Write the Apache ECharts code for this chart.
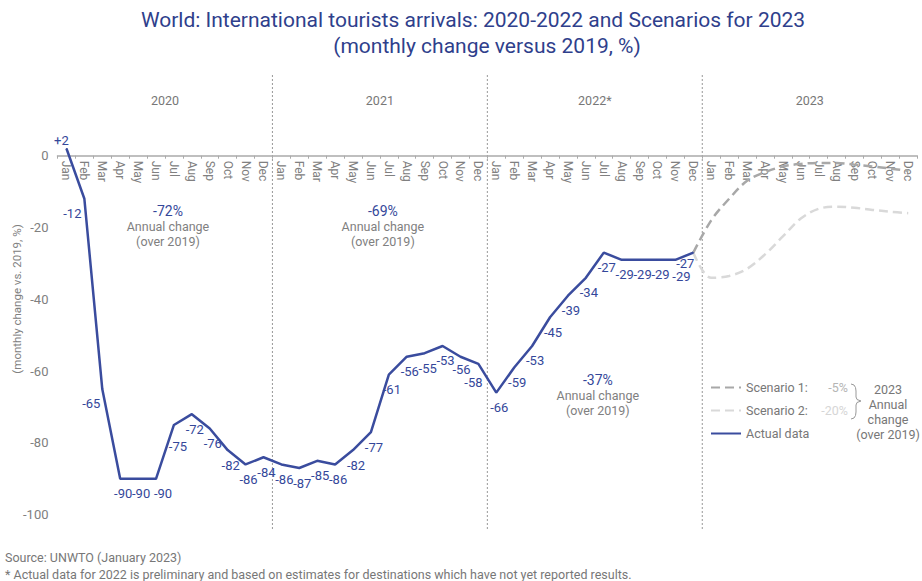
<!DOCTYPE html>
<html><head><meta charset="utf-8">
<script src="https://cdn.jsdelivr.net/npm/echarts@6/dist/echarts.min.js"></script>
<style>html,body{margin:0;padding:0;background:#fff}#c{width:922px;height:581px}</style>
</head><body><div id="c"></div>
<script>
// ---------- data ----------
const years = ['2020', '2021', '2022*', '2023'];
const months = ['Jan','Feb','Mar','Apr','May','Jun','Jul','Aug','Sep','Oct','Nov','Dec'];
const actual2020 = [2, -12, -65, -90, -90, -90, -75, -72, -76, -82, -86, -84];
const actual2021 = [-86, -87, -85, -86, -82, -77, -61, -56, -55, -53, -56, -58];
const actual2022 = [-66, -59, -53, -45, -39, -34, -27, -29, -29, -29, -29, -27];
const scenario1_2023 = [-18, -12, -7, -4.6, -3, -2.3, -2, -2, -2.5, -3, -3.6, -4.2];
const scenario2_2023 = [-34, -33.5, -31.5, -27.5, -22.5, -17.5, -14.8, -14.2, -14.5, -15.1, -15.6, -16];
const annualChange = ['-72%', '-69%', '-37%'];
const scenarioAnnual = ['-5%', '-20%'];
const seriesNames = ['Scenario 1:', 'Scenario 2:', 'Actual data'];
const yMin = -100, yMax = 0, yStep = 20;

// ---------- styles ----------
const BLUE = '#3a4c9e';
const TXT_BLUE = '#34479a';
const GRAY = '#808080';
const FONT = 'Roboto, "Noto Sans", sans-serif';
// label offsets (dx, dy) from each point; default below the point
const defaultLabelOffset = [3, 15];
const labelOffsetOverrides = {0: [-5, -8], 1: [-12, 15], 2: [-11, 14], 5: [7, 15], 6: [4, 22], 22: [1, 13], 23: [-5, 19], 34: [6, 17], 35: [-8, 11]};

// ---------- build ----------
const categories = [];
years.forEach(() => months.forEach(m => categories.push(m)));
const actual = actual2020.concat(actual2021, actual2022);
const lead = new Array(actual.length - 1).fill('-');
const s1 = lead.concat([actual[actual.length - 1]], scenario1_2023);
const s2 = lead.concat([actual[actual.length - 1]], scenario2_2023);

const actualData = actual.map((v, i) => ({
  value: v,
  label: {offset: labelOffsetOverrides[i] || defaultLabelOffset}
}));

const chart = echarts.init(document.getElementById('c'), null, {renderer: 'svg'});
const option = {
  animation: false,
  backgroundColor: '#fff',
  grid: {left: 57.5, right: 4.8, top: 155.7, bottom: 66.3},
  xAxis: {
    type: 'category',
    position: 'top',
    data: categories,
    boundaryGap: true,
    axisLine: {onZero: false, lineStyle: {color: '#aaa', width: 1.5}},
    axisTick: {show: true, inside: true, length: 3, lineStyle: {color: '#aaa'}},
    axisLabel: {inside: true, rotate: 90, interval: 0, margin: 5, color: GRAY, fontSize: 12, fontFamily: FONT}
  },
  yAxis: {
    type: 'value', min: yMin, max: yMax, interval: yStep,
    axisLine: {show: false}, axisTick: {show: false}, splitLine: {show: false},
    axisLabel: {color: GRAY, fontSize: 13, margin: 9, fontFamily: FONT}
  },
  legend: {
    orient: 'vertical', left: 705, top: 376, itemWidth: 30, itemHeight: 14, itemGap: 10,
    selectedMode: false,
    data: seriesNames,
    itemStyle: {opacity: 0},
    formatter: name => {
      const i = seriesNames.indexOf(name);
      return i < 2 ? `{n|${name}}{p${i}|${scenarioAnnual[i]}}` : `{n|${name}}`;
    },
    textStyle: {
      color: '#777', fontSize: 12.5, fontFamily: FONT,
      rich: {
        n: {color: '#777', fontSize: 12.5, fontFamily: FONT, width: 66},
        p0: {color: '#b5b5b5', fontSize: 12.5, fontFamily: FONT, width: 36, align: 'right'},
        p1: {color: '#d6d6d6', fontSize: 12.5, fontFamily: FONT, width: 36, align: 'right'}
      }
    }
  },
  series: [
    {
      name: seriesNames[0], type: 'line', data: s1, smooth: 0.35, symbol: 'none', clip: false, z: 2,
      lineStyle: {color: '#a8a8a8', width: 2.5, type: [9, 5]}, itemStyle: {color: '#a8a8a8'}
    },
    {
      name: seriesNames[1], type: 'line', data: s2, smooth: 0.35, symbol: 'none', clip: false, z: 1,
      lineStyle: {color: '#d9d9d9', width: 2.5, type: [9, 5]}, itemStyle: {color: '#d9d9d9'}
    },
    {
      name: seriesNames[2], type: 'line', data: actualData, symbol: 'circle', symbolSize: 1, clip: false, z: 3,
      lineStyle: {color: BLUE, width: 2.5}, itemStyle: {color: BLUE},
      label: {
        show: true, position: 'inside', color: TXT_BLUE, fontSize: 13, fontFamily: FONT,
        formatter: p => (p.value > 0 ? '+' : '') + p.value
      }
    }
  ]
};
chart.setOption(option);

// ---------- annotations positioned via the axes ----------
const px = i => chart.convertToPixel({xAxisIndex: 0}, i);
const g = [];
const divTop = 75, divBottom = 530;
for (let k = 1; k < years.length; k++) {
  const x = (px(12 * k - 1) + px(12 * k)) / 2;
  g.push({type: 'line', shape: {x1: x, y1: divTop, x2: x, y2: divBottom}, style: {stroke: '#999', lineWidth: 1, lineDash: [2, 2]}, silent: true});
}
years.forEach((y, k) => {
  const x = (px(12 * k + 5) + px(12 * k + 6)) / 2;
  g.push({type: 'text', x: x, y: 100, style: {text: y, fill: '#777', font: '12.5px ' + FONT, textAlign: 'center', textVerticalAlign: 'middle'}});
});
const annY = [211, 211, 380];
annualChange.forEach((t, k) => {
  const x = (px(12 * k + 5) + px(12 * k + 6)) / 2 + 3;
  g.push({type: 'text', x: x, y: annY[k], style: {text: t, fill: TXT_BLUE, font: '14px ' + FONT, textAlign: 'center', textVerticalAlign: 'middle'}});
  g.push({type: 'text', x: x, y: annY[k] + 15, style: {text: 'Annual change', fill: GRAY, font: '12.5px ' + FONT, textAlign: 'center', textVerticalAlign: 'middle'}});
  g.push({type: 'text', x: x, y: annY[k] + 30, style: {text: '(over 2019)', fill: GRAY, font: '12.5px ' + FONT, textAlign: 'center', textVerticalAlign: 'middle'}});
});
// titles
g.push({type: 'text', x: 473, y: 20, style: {text: 'World: International tourists arrivals: 2020-2022 and Scenarios for 2023', fill: '#2f3f8c', font: '21px ' + FONT, textAlign: 'center', textVerticalAlign: 'middle'}});
g.push({type: 'text', x: 487, y: 46, style: {text: '(monthly change versus 2019, %)', fill: '#2f3f8c', font: '21px ' + FONT, textAlign: 'center', textVerticalAlign: 'middle'}});
// y axis name
g.push({type: 'text', x: 17, y: 299, rotation: Math.PI / 2, style: {text: '(monthly change vs. 2019, %)', fill: GRAY, font: '11.5px ' + FONT, textAlign: 'center', textVerticalAlign: 'middle'}});
// brace + side note
g.push({type: 'polyline', shape: {points: [[851,384],[854,385],[855.5,387.5],[856,391],[856,397],[857,399.5],[861,401],[857,402.5],[856,405],[856,412],[855.5,415.5],[854,418],[851,419]]}, style: {stroke: '#999', lineWidth: 1, fill: null}});
['2023', 'Annual', 'change', '(over 2019)'].forEach((t, i) => {
  g.push({type: 'text', x: 888, y: 389 + i * 15, style: {text: t, fill: '#777', font: '12.5px ' + FONT, textAlign: 'center', textVerticalAlign: 'middle'}});
});
// source
g.push({type: 'text', x: 5, y: 557, style: {text: 'Source: UNWTO (January 2023)', fill: '#777', font: '12.5px ' + FONT, textVerticalAlign: 'middle'}});
g.push({type: 'text', x: 5, y: 574, style: {text: '* Actual data for 2022 is preliminary and based on estimates for destinations which have not yet reported results.', fill: '#777', font: '12.5px ' + FONT, textVerticalAlign: 'middle'}});
chart.setOption({graphic: g});
</script></body></html>
